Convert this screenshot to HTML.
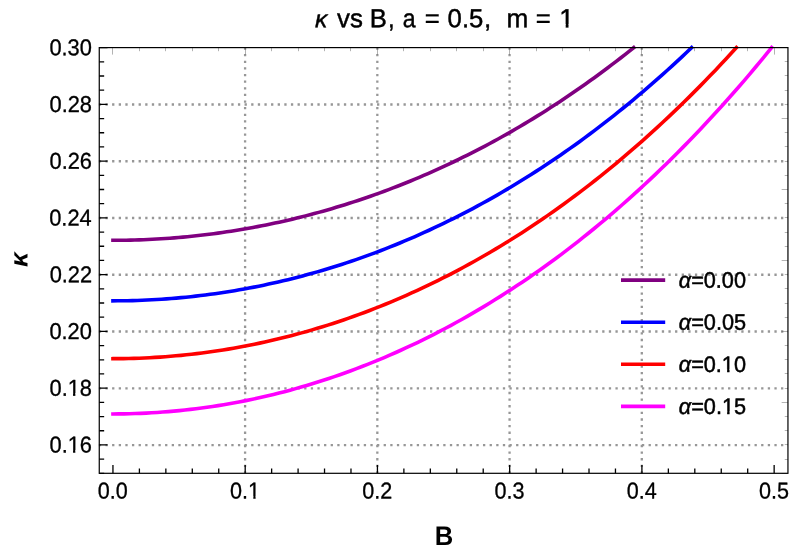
<!DOCTYPE html>
<html><head><meta charset="utf-8"><title>kappa vs B</title>
<style>html,body{margin:0;padding:0;background:#fff}body{width:797px;height:552px;overflow:hidden;font-family:"Liberation Sans",sans-serif}svg{display:block;will-change:transform}</style>
</head><body>
<svg width="797" height="552" viewBox="0 0 797 552">
<rect width="797" height="552" fill="#fff"/>
<path d="M98.85 445.04H787.95M98.85 388.28H787.95M98.85 331.52H787.95M98.85 274.76H787.95M98.85 218.00H787.95M98.85 161.24H787.95M98.85 104.48H787.95" fill="none" stroke="#979797" stroke-width="2.30" stroke-dasharray="2.300 4.323"/>
<path d="M245.09 47.45V473.30M377.33 47.45V473.30M509.57 47.45V473.30M641.81 47.45V473.30" fill="none" stroke="#979797" stroke-width="2.30" stroke-dasharray="2.300 4.323"/>
<path d="M112.95 240.30 L117.33 240.29 L121.70 240.25 L126.08 240.19 L130.46 240.10 L134.83 239.99 L139.21 239.85 L143.58 239.69 L147.96 239.50 L152.34 239.29 L156.71 239.05 L161.09 238.79 L165.47 238.50 L169.84 238.19 L174.22 237.86 L178.60 237.49 L182.97 237.11 L187.35 236.69 L191.73 236.26 L196.10 235.79 L200.48 235.30 L204.85 234.79 L209.23 234.25 L213.61 233.69 L217.98 233.10 L222.36 232.48 L226.74 231.84 L231.11 231.18 L235.49 230.48 L239.87 229.77 L244.24 229.02 L248.62 228.25 L252.99 227.46 L257.37 226.64 L261.75 225.79 L266.12 224.92 L270.50 224.02 L274.88 223.09 L279.25 222.14 L283.63 221.16 L288.01 220.16 L292.38 219.13 L296.76 218.07 L301.14 216.99 L305.51 215.88 L309.89 214.74 L314.26 213.58 L318.64 212.38 L323.02 211.17 L327.39 209.92 L331.77 208.65 L336.15 207.35 L340.52 206.02 L344.90 204.66 L349.28 203.28 L353.65 201.87 L358.03 200.43 L362.41 198.97 L366.78 197.47 L371.16 195.95 L375.53 194.40 L379.91 192.82 L384.29 191.21 L388.66 189.58 L393.04 187.91 L397.42 186.22 L401.79 184.49 L406.17 182.74 L410.55 180.96 L414.92 179.15 L419.30 177.31 L423.67 175.44 L428.05 173.54 L432.43 171.61 L436.80 169.65 L441.18 167.65 L445.56 165.63 L449.93 163.58 L454.31 161.50 L458.69 159.39 L463.06 157.24 L467.44 155.07 L471.82 152.86 L476.19 150.62 L480.57 148.35 L484.94 146.05 L489.32 143.72 L493.70 141.35 L498.07 138.96 L502.45 136.53 L506.83 134.06 L511.20 131.57 L515.58 129.04 L519.96 126.48 L524.33 123.88 L528.71 121.25 L533.08 118.59 L537.46 115.89 L541.84 113.16 L546.21 110.40 L550.59 107.60 L554.97 104.77 L559.34 101.90 L563.72 98.99 L568.10 96.06 L572.47 93.08 L576.85 90.07 L581.23 87.03 L585.60 83.94 L589.98 80.83 L594.35 77.67 L598.73 74.48 L603.11 71.25 L607.48 67.99 L611.86 64.68 L616.24 61.34 L620.61 57.96 L624.99 54.55 L629.37 51.09 L633.74 47.60" fill="none" stroke="#800080" stroke-width="3.6" stroke-linecap="square" stroke-linejoin="round"/>
<path d="M112.95 300.83 L117.81 300.82 L122.68 300.77 L127.54 300.69 L132.40 300.58 L137.26 300.43 L142.13 300.25 L146.99 300.04 L151.85 299.80 L156.72 299.52 L161.58 299.21 L166.44 298.87 L171.30 298.50 L176.17 298.09 L181.03 297.65 L185.89 297.18 L190.76 296.68 L195.62 296.14 L200.48 295.57 L205.35 294.97 L210.21 294.33 L215.07 293.66 L219.93 292.96 L224.80 292.23 L229.66 291.46 L234.52 290.66 L239.39 289.82 L244.25 288.96 L249.11 288.06 L253.97 287.12 L258.84 286.15 L263.70 285.15 L268.56 284.11 L273.43 283.05 L278.29 281.94 L283.15 280.80 L288.01 279.63 L292.88 278.43 L297.74 277.19 L302.60 275.91 L307.47 274.60 L312.33 273.26 L317.19 271.88 L322.06 270.46 L326.92 269.01 L331.78 267.53 L336.64 266.01 L341.51 264.46 L346.37 262.87 L351.23 261.24 L356.10 259.58 L360.96 257.88 L365.82 256.15 L370.68 254.38 L375.55 252.57 L380.41 250.73 L385.27 248.85 L390.14 246.93 L395.00 244.98 L399.86 242.98 L404.72 240.96 L409.59 238.89 L414.45 236.79 L419.31 234.65 L424.18 232.47 L429.04 230.25 L433.90 227.99 L438.77 225.70 L443.63 223.36 L448.49 220.99 L453.35 218.58 L458.22 216.13 L463.08 213.64 L467.94 211.11 L472.81 208.54 L477.67 205.93 L482.53 203.28 L487.39 200.58 L492.26 197.85 L497.12 195.08 L501.98 192.26 L506.85 189.41 L511.71 186.51 L516.57 183.57 L521.43 180.59 L526.30 177.56 L531.16 174.50 L536.02 171.39 L540.89 168.23 L545.75 165.04 L550.61 161.80 L555.48 158.51 L560.34 155.18 L565.20 151.81 L570.06 148.39 L574.93 144.93 L579.79 141.42 L584.65 137.87 L589.52 134.27 L594.38 130.62 L599.24 126.93 L604.10 123.19 L608.97 119.41 L613.83 115.58 L618.69 111.70 L623.56 107.77 L628.42 103.80 L633.28 99.77 L638.14 95.70 L643.01 91.58 L647.87 87.41 L652.73 83.19 L657.60 78.92 L662.46 74.60 L667.32 70.22 L672.18 65.80 L677.05 61.33 L681.91 56.81 L686.77 52.23 L691.64 47.60" fill="none" stroke="#0000ff" stroke-width="3.6" stroke-linecap="square" stroke-linejoin="round"/>
<path d="M112.95 358.67 L118.19 358.65 L123.43 358.59 L128.67 358.50 L133.91 358.36 L139.15 358.18 L144.39 357.96 L149.62 357.71 L154.86 357.41 L160.10 357.08 L165.34 356.70 L170.58 356.29 L175.82 355.83 L181.06 355.34 L186.30 354.81 L191.54 354.23 L196.78 353.62 L202.02 352.97 L207.26 352.27 L212.50 351.54 L217.74 350.77 L222.97 349.95 L228.21 349.10 L233.45 348.21 L238.69 347.27 L243.93 346.30 L249.17 345.28 L254.41 344.23 L259.65 343.13 L264.89 341.99 L270.13 340.81 L275.37 339.59 L280.61 338.33 L285.85 337.03 L291.09 335.69 L296.32 334.30 L301.56 332.87 L306.80 331.40 L312.04 329.89 L317.28 328.34 L322.52 326.74 L327.76 325.11 L333.00 323.43 L338.24 321.70 L343.48 319.94 L348.72 318.13 L353.96 316.27 L359.20 314.38 L364.44 312.44 L369.67 310.45 L374.91 308.42 L380.15 306.35 L385.39 304.24 L390.63 302.07 L395.87 299.87 L401.11 297.62 L406.35 295.32 L411.59 292.98 L416.83 290.59 L422.07 288.16 L427.31 285.68 L432.55 283.16 L437.79 280.58 L443.02 277.96 L448.26 275.30 L453.50 272.59 L458.74 269.82 L463.98 267.02 L469.22 264.16 L474.46 261.26 L479.70 258.30 L484.94 255.30 L490.18 252.25 L495.42 249.15 L500.66 246.00 L505.90 242.80 L511.14 239.55 L516.37 236.25 L521.61 232.90 L526.85 229.49 L532.09 226.04 L537.33 222.53 L542.57 218.98 L547.81 215.37 L553.05 211.70 L558.29 207.99 L563.53 204.22 L568.77 200.40 L574.01 196.52 L579.25 192.59 L584.49 188.60 L589.72 184.56 L594.96 180.47 L600.20 176.32 L605.44 172.11 L610.68 167.84 L615.92 163.52 L621.16 159.15 L626.40 154.71 L631.64 150.22 L636.88 145.67 L642.12 141.06 L647.36 136.39 L652.60 131.66 L657.84 126.87 L663.07 122.02 L668.31 117.12 L673.55 112.15 L678.79 107.12 L684.03 102.02 L689.27 96.87 L694.51 91.65 L699.75 86.37 L704.99 81.02 L710.23 75.62 L715.47 70.14 L720.71 64.61 L725.95 59.00 L731.19 53.33 L736.42 47.60" fill="none" stroke="#ff0000" stroke-width="3.6" stroke-linecap="square" stroke-linejoin="round"/>
<path d="M112.95 413.93 L118.49 413.91 L124.02 413.84 L129.56 413.72 L135.09 413.56 L140.63 413.35 L146.16 413.10 L151.70 412.80 L157.23 412.46 L162.77 412.06 L168.30 411.63 L173.84 411.14 L179.37 410.61 L184.91 410.04 L190.44 409.41 L195.98 408.74 L201.51 408.03 L207.05 407.27 L212.58 406.46 L218.12 405.60 L223.65 404.70 L229.19 403.75 L234.72 402.75 L240.26 401.71 L245.80 400.62 L251.33 399.48 L256.87 398.29 L262.40 397.06 L267.94 395.77 L273.47 394.45 L279.01 393.07 L284.54 391.64 L290.08 390.17 L295.61 388.64 L301.15 387.07 L306.68 385.45 L312.22 383.78 L317.75 382.07 L323.29 380.30 L328.82 378.48 L334.36 376.61 L339.89 374.70 L345.43 372.73 L350.96 370.71 L356.50 368.65 L362.04 366.53 L367.57 364.36 L373.11 362.14 L378.64 359.87 L384.18 357.54 L389.71 355.17 L395.25 352.74 L400.78 350.26 L406.32 347.73 L411.85 345.15 L417.39 342.51 L422.92 339.82 L428.46 337.07 L433.99 334.27 L439.53 331.42 L445.06 328.51 L450.60 325.55 L456.13 322.53 L461.67 319.46 L467.20 316.33 L472.74 313.15 L478.27 309.91 L483.81 306.61 L489.35 303.26 L494.88 299.84 L500.42 296.37 L505.95 292.85 L511.49 289.26 L517.02 285.62 L522.56 281.92 L528.09 278.15 L533.63 274.33 L539.16 270.45 L544.70 266.51 L550.23 262.51 L555.77 258.44 L561.30 254.32 L566.84 250.13 L572.37 245.88 L577.91 241.57 L583.44 237.19 L588.98 232.75 L594.51 228.25 L600.05 223.68 L605.59 219.05 L611.12 214.35 L616.66 209.58 L622.19 204.75 L627.73 199.86 L633.26 194.89 L638.80 189.86 L644.33 184.76 L649.87 179.60 L655.40 174.36 L660.94 169.05 L666.47 163.68 L672.01 158.23 L677.54 152.72 L683.08 147.13 L688.61 141.47 L694.15 135.74 L699.68 129.93 L705.22 124.05 L710.75 118.10 L716.29 112.07 L721.82 105.97 L727.36 99.80 L732.90 93.54 L738.43 87.21 L743.97 80.81 L749.50 74.32 L755.04 67.76 L760.57 61.12 L766.11 54.40 L771.64 47.60" fill="none" stroke="#ff00ff" stroke-width="3.6" stroke-linecap="square" stroke-linejoin="round"/>
<path d="M112.50 47.60v7.00M139.50 47.60v3.60M165.50 47.60v3.60M192.50 47.60v3.60M218.50 47.60v3.60M245.50 47.60v7.00M271.50 47.60v3.60M298.50 47.60v3.60M324.50 47.60v3.60M350.50 47.60v3.60M377.50 47.60v7.00M403.50 47.60v3.60M430.50 47.60v3.60M456.50 47.60v3.60M483.50 47.60v3.60M509.50 47.60v7.00M536.50 47.60v3.60M562.50 47.60v3.60M589.50 47.60v3.60M615.50 47.60v3.60M641.50 47.60v7.00M668.50 47.60v3.60M694.50 47.60v3.60M721.50 47.60v3.60M747.50 47.60v3.60M774.50 47.60v7.00M787.95 473.50h-6.30M787.95 459.50h-3.20M787.95 444.50h-3.20M787.95 430.50h-3.20M787.95 416.50h-3.20M787.95 402.50h-6.30M787.95 388.50h-3.20M787.95 373.50h-3.20M787.95 359.50h-3.20M787.95 345.50h-3.20M787.95 331.50h-6.30M787.95 317.50h-3.20M787.95 303.50h-3.20M787.95 288.50h-3.20M787.95 274.50h-3.20M787.95 260.50h-6.30M787.95 246.50h-3.20M787.95 232.50h-3.20M787.95 217.50h-3.20M787.95 203.50h-3.20M787.95 189.50h-6.30M787.95 175.50h-3.20M787.95 161.50h-3.20M787.95 146.50h-3.20M787.95 132.50h-3.20M787.95 118.50h-6.30M787.95 104.50h-3.20M787.95 90.50h-3.20M787.95 75.50h-3.20M787.95 61.50h-3.20M787.95 47.50h-6.30" fill="none" stroke="#555" stroke-width="0.45"/>
<path d="M99.26 473.30h4.90M99.26 459.11h4.90M99.26 444.92h8.25M99.26 430.73h4.90M99.26 416.54h4.90M99.26 402.35h4.90M99.26 388.16h8.25M99.26 373.97h4.90M99.26 359.78h4.90M99.26 345.59h4.90M99.26 331.40h8.25M99.26 317.21h4.90M99.26 303.02h4.90M99.26 288.83h4.90M99.26 274.64h8.25M99.26 260.45h4.90M99.26 246.26h4.90M99.26 232.07h4.90M99.26 217.88h8.25M99.26 203.69h4.90M99.26 189.50h4.90M99.26 175.31h4.90M99.26 161.12h8.25M99.26 146.93h4.90M99.26 132.74h4.90M99.26 118.55h4.90M99.26 104.36h8.25M99.26 90.17h4.90M99.26 75.98h4.90M99.26 61.79h4.90M99.26 47.60h8.25M112.95 473.30v-8.25M139.40 473.30v-4.90M165.85 473.30v-4.90M192.29 473.30v-4.90M218.74 473.30v-4.90M245.19 473.30v-8.25M271.64 473.30v-4.90M298.09 473.30v-4.90M324.53 473.30v-4.90M350.98 473.30v-4.90M377.43 473.30v-8.25M403.88 473.30v-4.90M430.33 473.30v-4.90M456.77 473.30v-4.90M483.22 473.30v-4.90M509.67 473.30v-8.25M536.12 473.30v-4.90M562.57 473.30v-4.90M589.01 473.30v-4.90M615.46 473.30v-4.90M641.91 473.30v-8.25M668.36 473.30v-4.90M694.81 473.30v-4.90M721.25 473.30v-4.90M747.70 473.30v-4.90M774.15 473.30v-8.25" fill="none" stroke="#000" stroke-width="1.3"/>
<rect x="99.26" y="47.60" width="688.69" height="425.70" fill="none" stroke="#000" stroke-width="1.2"/>
<g font-family="'Liberation Sans', sans-serif" fill="#000">
<clipPath id="c1"><path clip-rule="evenodd" d="M-50 -50H94.6V50H-50ZM19.43 -2.62H24.70V1.21H19.43ZM27.04 -2.62H32.13V1.21H27.04Z"/></clipPath>
<text transform="translate(49.51 452.55) scale(0.9532 1.0000) rotate(0.05)" font-size="22.90" stroke="#000" stroke-width="0.32" stroke-linejoin="round" clip-path="url(#c1)">0.16</text>
<clipPath id="c2"><path clip-rule="evenodd" d="M-50 -50H94.6V50H-50ZM19.43 -2.62H24.70V1.21H19.43ZM27.04 -2.62H32.13V1.21H27.04Z"/></clipPath>
<text transform="translate(49.50 395.79) scale(0.9532 1.0000) rotate(0.05)" font-size="22.90" stroke="#000" stroke-width="0.32" stroke-linejoin="round" clip-path="url(#c2)">0.18</text>
<text transform="translate(49.41 339.03) scale(0.9532 1.0000) rotate(0.05)" font-size="22.90" stroke="#000" stroke-width="0.32" stroke-linejoin="round">0.20</text>
<text transform="translate(49.65 282.27) scale(0.9532 1.0000) rotate(0.05)" font-size="22.90" stroke="#000" stroke-width="0.32" stroke-linejoin="round">0.22</text>
<text transform="translate(49.19 225.51) scale(0.9533 1.0000) rotate(0.05)" font-size="22.90" stroke="#000" stroke-width="0.32" stroke-linejoin="round">0.24</text>
<text transform="translate(49.51 168.75) scale(0.9532 1.0000) rotate(0.05)" font-size="22.90" stroke="#000" stroke-width="0.32" stroke-linejoin="round">0.26</text>
<text transform="translate(49.50 111.99) scale(0.9532 1.0000) rotate(0.05)" font-size="22.90" stroke="#000" stroke-width="0.32" stroke-linejoin="round">0.28</text>
<text transform="translate(49.41 55.23) scale(0.9532 1.0000) rotate(0.05)" font-size="22.90" stroke="#000" stroke-width="0.32" stroke-linejoin="round">0.30</text>
<text transform="translate(97.86 498.52) scale(0.9415 1.0000) rotate(0.05)" font-size="22.90" stroke="#000" stroke-width="0.32" stroke-linejoin="round">0.0</text>
<clipPath id="c3"><path clip-rule="evenodd" d="M-50 -50H81.8V50H-50ZM19.43 -2.62H24.70V1.21H19.43ZM27.04 -2.62H32.13V1.21H27.04Z"/></clipPath>
<text transform="translate(230.10 498.52) scale(0.9415 1.0000) rotate(0.05)" font-size="22.90" stroke="#000" stroke-width="0.32" stroke-linejoin="round" clip-path="url(#c3)">0.1</text>
<text transform="translate(362.34 498.52) scale(0.9415 1.0000) rotate(0.05)" font-size="22.90" stroke="#000" stroke-width="0.32" stroke-linejoin="round">0.2</text>
<text transform="translate(494.58 498.52) scale(0.9415 1.0000) rotate(0.05)" font-size="22.90" stroke="#000" stroke-width="0.32" stroke-linejoin="round">0.3</text>
<text transform="translate(626.82 498.52) scale(0.9415 1.0000) rotate(0.05)" font-size="22.90" stroke="#000" stroke-width="0.32" stroke-linejoin="round">0.4</text>
<text transform="translate(759.06 498.52) scale(0.9415 1.0000) rotate(0.05)" font-size="22.90" stroke="#000" stroke-width="0.32" stroke-linejoin="round">0.5</text>
<text transform="translate(315.02 27.28) scale(1.0155 1.0000) rotate(0.05)" font-size="24.27" stroke="#000" stroke-width="0.45" stroke-linejoin="round"><tspan font-style="italic">κ</tspan></text>
<text transform="translate(337.04 27.28) scale(0.9913 1.0000) rotate(0.05)" font-size="26.10" stroke="#000" stroke-width="0.45" stroke-linejoin="round">vs</text>
<text transform="translate(369.82 27.28) scale(0.9826 1.0000) rotate(0.05)" font-size="26.10" stroke="#000" stroke-width="0.45" stroke-linejoin="round">B</text>
<text transform="translate(388.07 27.28) scale(0.9174 1.0000) rotate(0.05)" font-size="26.10" stroke="#000" stroke-width="0.45" stroke-linejoin="round">,</text>
<text transform="translate(402.65 27.28) scale(0.8839 1.0000) rotate(0.05)" font-size="26.10" stroke="#000" stroke-width="0.45" stroke-linejoin="round">a</text>
<text transform="translate(424.77 27.28) scale(0.9818 1.0000) rotate(0.05)" font-size="26.10" stroke="#000" stroke-width="0.45" stroke-linejoin="round">=</text>
<text transform="translate(447.62 27.28) scale(0.9849 1.0000) rotate(0.05)" font-size="26.10" stroke="#000" stroke-width="0.45" stroke-linejoin="round">0.5</text>
<text transform="translate(483.89 27.28) scale(0.9955 1.0000) rotate(0.05)" font-size="26.10" stroke="#000" stroke-width="0.45" stroke-linejoin="round">,</text>
<text transform="translate(506.39 27.28) scale(1.0034 1.0000) rotate(0.05)" font-size="26.10" stroke="#000" stroke-width="0.45" stroke-linejoin="round">m</text>
<text transform="translate(535.67 27.28) scale(0.9818 1.0000) rotate(0.05)" font-size="26.10" stroke="#000" stroke-width="0.45" stroke-linejoin="round">=</text>
<clipPath id="c4"><path clip-rule="evenodd" d="M-50 -50H64.5V50H-50ZM0.51 -2.92H6.34V1.27H0.51ZM9.09 -2.92H14.72V1.27H9.09Z"/></clipPath>
<text transform="translate(559.28 27.28) scale(1.0143 1.0000) rotate(0.05)" font-size="26.10" stroke="#000" stroke-width="0.45" stroke-linejoin="round" clip-path="url(#c4)">1</text>
<text transform="translate(444,545) scale(0.955,1) rotate(0.05)" font-size="26.8" font-weight="bold" text-anchor="middle">B</text>
<text transform="translate(27.55,259.55) rotate(-89.95) scale(1.042,1)" font-size="25.0" font-weight="bold" font-style="italic" text-anchor="middle">κ</text>
<path d="M621 280.10H665.2" stroke="#800080" stroke-width="3.6" fill="none"/>
<text transform="translate(678.81 287.66) scale(0.9677 1.0000) rotate(0.05)" font-size="22.39" stroke="#000" stroke-width="0.50" stroke-linejoin="round"><tspan font-style="italic">α</tspan>=0.00</text>
<path d="M621 322.20H665.2" stroke="#0000ff" stroke-width="3.6" fill="none"/>
<text transform="translate(678.81 329.76) scale(0.9686 1.0000) rotate(0.05)" font-size="22.39" stroke="#000" stroke-width="0.50" stroke-linejoin="round"><tspan font-style="italic">α</tspan>=0.05</text>
<path d="M621 364.30H665.2" stroke="#ff0000" stroke-width="3.6" fill="none"/>
<clipPath id="c5"><path clip-rule="evenodd" d="M-50 -50H119.4V50H-50ZM44.73 -2.67H49.91V1.30H44.73ZM52.38 -2.67H57.38V1.30H52.38Z"/></clipPath>
<text transform="translate(678.81 371.86) scale(0.9677 1.0000) rotate(0.05)" font-size="22.39" stroke="#000" stroke-width="0.50" stroke-linejoin="round" clip-path="url(#c5)"><tspan font-style="italic">α</tspan>=0.10</text>
<path d="M621 406.40H665.2" stroke="#ff00ff" stroke-width="3.6" fill="none"/>
<clipPath id="c6"><path clip-rule="evenodd" d="M-50 -50H119.4V50H-50ZM44.73 -2.67H49.91V1.30H44.73ZM52.38 -2.67H57.38V1.30H52.38Z"/></clipPath>
<text transform="translate(678.81 413.96) scale(0.9686 1.0000) rotate(0.05)" font-size="22.39" stroke="#000" stroke-width="0.50" stroke-linejoin="round" clip-path="url(#c6)"><tspan font-style="italic">α</tspan>=0.15</text>
</g>
</svg>
</body></html>
